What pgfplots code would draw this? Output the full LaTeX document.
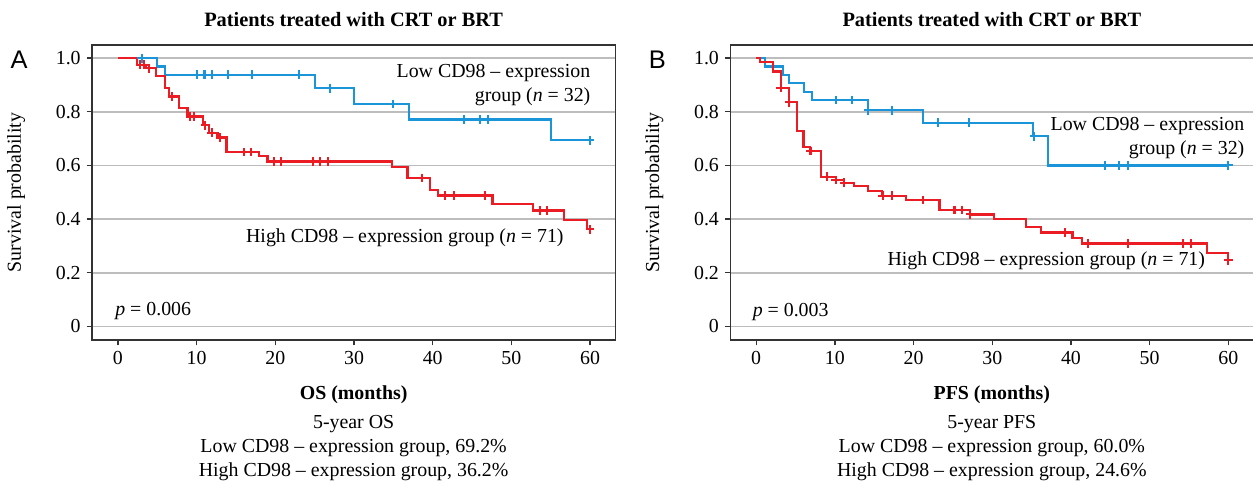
\documentclass[border=0pt]{standalone}
\usepackage{fontspec}
\setmainfont{Liberation Serif}
\newfontfamily\panelfont{Liberation Sans}
\usepackage{pgfplots}
\pgfplotsset{compat=1.18}

\definecolor{kmblue}{HTML}{1B95D9}
\definecolor{kmred}{HTML}{EC1C24}
\definecolor{gridgray}{HTML}{BDBDBD}
\definecolor{axisgray}{HTML}{333333}

\newcommand{\txt}{\fontsize{11.7}{14.2}\selectfont}

\pgfplotsset{
  km/.style={
    scale only axis, width=10.83cm, height=6.11cm,
    xmin=-3.3, xmax=63.2, ymin=-0.051, ymax=1.049,
    xtick={0,10,20,30,40,50,60},
    ytick={0,0.2,0.4,0.6,0.8,1.0},
    yticklabels={0,0.2,0.4,0.6,0.8,1.0},
    xtick pos=lower, ytick pos=left, tick align=outside,
    major tick length=0.11cm,
    ymajorgrids, grid style={gridgray, line width=0.9pt},
    axis line style={axisgray, line width=0.8pt},
    tick style={axisgray, line width=0.8pt},
    tick label style={font=\txt},
    /pgf/number format/assume math mode=true,
    clip=false,
  },
  curve/.style={#1, line width=1.3pt, const plot, mark=none},
  cens/.style={#1, only marks, mark=+, mark size=2.6pt, mark options={line width=1.2pt}},
}

\begin{document}
\begin{tikzpicture}
% ---------- A: OS ----------
\begin{axis}[km, at={(0,0)}]
\addplot[curve=kmblue] coordinates {(0,1) (5,0.969) (6,0.9375) (25,0.888) (30,0.829) (37,0.771) (55,0.694) (60,0.694)};
\addplot[cens=kmblue] coordinates {(3,1) (10,0.9375) (11,0.9375) (12,0.9375) (14,0.9375) (17,0.9375) (23,0.9375) (27,0.888) (35,0.829) (44,0.771) (46,0.771) (47,0.771) (60,0.694)};
\addplot[curve=kmred] coordinates {(0,1) (2.4,0.975) (3.6,0.9625) (4.8,0.934) (6.0,0.888) (6.5,0.857) (7.8,0.813) (8.85,0.782) (10.8,0.750) (11.6,0.722) (12.65,0.704) (13.8,0.650) (17.9,0.635) (19.0,0.615) (34.8,0.594) (36.8,0.553) (39.7,0.509) (40.7,0.488) (47.6,0.457) (52.7,0.432) (56.7,0.397) (59.6,0.362) (60,0.362)};
\addplot[cens=kmred] coordinates {(2.8,0.975) (3.3,0.975) (4.0,0.9625) (6.9,0.857) (9.2,0.782) (9.7,0.782) (11.1,0.750) (11.9,0.722) (13.0,0.704) (16.0,0.650) (16.9,0.650) (19.8,0.615) (20.7,0.615) (24.8,0.615) (25.7,0.615) (26.7,0.615) (38.7,0.553) (41.6,0.488) (42.7,0.488) (46.6,0.488) (53.6,0.432) (54.5,0.432) (60,0.362)};
\node[anchor=east, align=right, font=\txt] at (axis cs:60.8,0.898) {Low CD98 -- expression\\group (\textit{n} = 32)};
\node[anchor=east, font=\txt] at (axis cs:57.4,0.332) {High CD98 -- expression group (\textit{n} = 71)};
\node[anchor=west, font=\txt] at (axis cs:-1.1,0.057) {\textit{p} = 0.006};
\node[font=\bfseries\fontsize{12}{14}\selectfont] at ([yshift=0.52cm]rel axis cs:0.5,1) {Patients treated with CRT or BRT};
\node[font=\panelfont\fontsize{15}{17}\selectfont] at ([xshift=-1.51cm]rel axis cs:0,0.949) {A};
\node[font=\txt, rotate=90] at ([xshift=-1.57cm]rel axis cs:0,0.5) {Survival probability};
\node[font=\bfseries\txt] at ([yshift=-1.14cm]rel axis cs:0.5,0) {OS (months)};
\node[font=\txt, align=center] at ([yshift=-2.24cm]rel axis cs:0.5,0) {5-year OS\\Low CD98 -- expression group, 69.2\%\\High CD98 -- expression group, 36.2\%};
\end{axis}
% ---------- B: PFS ----------
\begin{axis}[km, at={(13.21cm,0)}]
\addplot[curve=kmblue] coordinates {(0,1) (1.1,0.969) (3.4,0.938) (4.2,0.906) (6.1,0.875) (7.1,0.844) (14.2,0.806) (21.2,0.759) (35.2,0.709) (37.1,0.600) (60,0.600)};
\addplot[cens=kmblue] coordinates {(10.1,0.844) (12.2,0.844) (14.2,0.806) (17.2,0.806) (23.1,0.759) (27.1,0.759) (35.3,0.709) (44.3,0.6) (46.1,0.6) (47.2,0.6) (60,0.6)};
\addplot[curve=kmred] coordinates {(0,1) (0.5,0.986) (2.1,0.95) (3.2,0.89) (4.2,0.835) (5.2,0.7275) (6.0,0.669) (6.8,0.654) (8.2,0.558) (10.1,0.546) (11.2,0.536) (12.4,0.524) (14.2,0.505) (16,0.4875) (19,0.471) (23.3,0.434) (27.2,0.4175) (30.2,0.399) (34.3,0.371) (36.2,0.35) (40.2,0.33) (41.4,0.309) (57.3,0.275) (60,0.246)};
\addplot[cens=kmred] coordinates {(3.1,0.89) (4.2,0.835) (6.9,0.654) (9.0,0.558) (10.1,0.546) (11.2,0.536) (16.1,0.4875) (17.2,0.4875) (21.2,0.471) (25.2,0.434) (26.2,0.434) (27.2,0.4175) (39.3,0.35) (42.2,0.309) (47.3,0.309) (54.3,0.309) (55.2,0.309) (60,0.246)};
\node[anchor=east, align=right, font=\txt] at (axis cs:62.8,0.703) {Low CD98 -- expression\\group (\textit{n} = 32)};
\node[anchor=east, font=\txt] at (axis cs:57.8,0.246) {High CD98 -- expression group (\textit{n} = 71)};
\node[anchor=west, font=\txt] at (axis cs:-1.2,0.055) {\textit{p} = 0.003};
\node[font=\bfseries\fontsize{12}{14}\selectfont] at ([yshift=0.52cm]rel axis cs:0.5,1) {Patients treated with CRT or BRT};
\node[font=\panelfont\fontsize{15}{17}\selectfont] at ([xshift=-1.51cm]rel axis cs:0,0.949) {B};
\node[font=\txt, rotate=90] at ([xshift=-1.57cm]rel axis cs:0,0.5) {Survival probability};
\node[font=\bfseries\txt] at ([yshift=-1.14cm]rel axis cs:0.5,0) {PFS (months)};
\node[font=\txt, align=center] at ([yshift=-2.24cm]rel axis cs:0.5,0) {5-year PFS\\Low CD98 -- expression group, 60.0\%\\High CD98 -- expression group, 24.6\%};
\end{axis}
\pgfresetboundingbox
\path[use as bounding box] (-1.904,-2.94) rectangle (24.03,7.04);
\end{tikzpicture}
\end{document}
